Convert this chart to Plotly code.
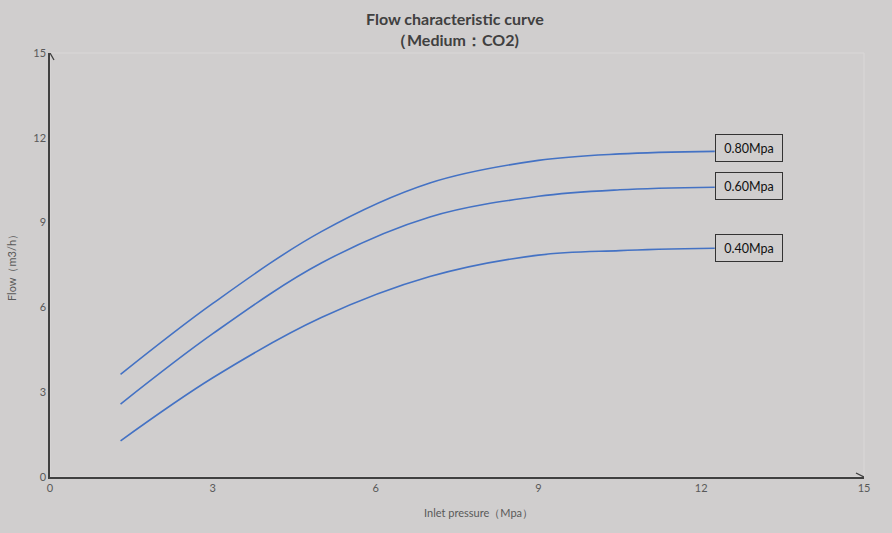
import plotly.graph_objects as go

pressure = [1.3, 3.0, 5.0, 7.0, 9.0, 10.5, 12.25]
flow_080 = [3.63, 6.14, 8.68, 10.40, 11.20, 11.43, 11.52]
flow_060 = [2.58, 5.07, 7.57, 9.20, 9.93, 10.16, 10.25]
flow_040 = [1.28, 3.51, 5.64, 7.09, 7.85, 8.01, 8.09]
series_names = ["0.80Mpa", "0.60Mpa", "0.40Mpa"]
label_shift = [3, 1, 0]
ticks = [0, 3, 6, 9, 12, 15]

BG = "#d0cece"
LINE = "#4472c4"
AX = "#404040"
TXT = "#595959"
FONT = "Lato"

fig = go.Figure()
series = [flow_080, flow_060, flow_040]
for name, ys in zip(series_names, series):
    fig.add_trace(go.Scatter(x=pressure, y=ys, mode="lines", name=name,
                             line=dict(color=LINE, width=1.6, shape="spline", smoothing=1.0),
                             showlegend=False, hoverinfo="skip"))

for name, ys, sh in zip(series_names, series, label_shift):
    fig.add_annotation(x=pressure[-1], y=ys[-1], xref="x", yref="y", text=name,
                       showarrow=False, xanchor="left", yanchor="middle", yshift=sh,
                       font=dict(family=FONT, size=12.5, color="#111111"),
                       bordercolor="#333333", borderwidth=1, borderpad=3,
                       width=60, height=20, bgcolor=BG)

# faint plot-area border (top and right)
fig.add_shape(type="rect", xref="paper", yref="paper", x0=0, x1=1, y0=0, y1=1,
              line=dict(color="#dad8d8", width=1), layer="below")

# axis arrowheads (open chevrons)
fig.add_shape(type="path", xref="x", yref="y", xsizemode="pixel", ysizemode="pixel",
              xanchor=0, yanchor=15, path="M -4,-7 L 0,0 L 4,-7",
              line=dict(color=AX, width=1.3))
fig.add_shape(type="path", xref="x", yref="y", xsizemode="pixel", ysizemode="pixel",
              xanchor=15, yanchor=0, path="M -8,4 L 0,0 L -8,-4",
              line=dict(color=AX, width=1.3))

# titles
fig.add_annotation(x=0.4975, y=1, xref="paper", yref="paper", yshift=35,
                   yanchor="middle", xanchor="center", showarrow=False,
                   text="<b>Flow characteristic curve</b>",
                   font=dict(family=FONT, size=16, color=AX))
fig.add_annotation(x=0.4975, y=1, xref="paper", yref="paper", yshift=13,
                   yanchor="middle", xanchor="center", showarrow=False,
                   text="<b>（Medium：CO2)</b>",
                   font=dict(family=FONT, size=16, color=AX))
fig.add_annotation(x=0.526, y=0, xref="paper", yref="paper", yshift=-35,
                   yanchor="middle", xanchor="center",
                   text="Inlet pressure（Mpa）", showarrow=False,
                   font=dict(family=FONT, size=11, color=TXT))

fig.update_layout(
    width=892, height=533,
    paper_bgcolor=BG, plot_bgcolor=BG,
    margin=dict(l=50, r=28, t=53, b=56),
    xaxis=dict(range=[0, 15], tickvals=ticks, showgrid=False, zeroline=False,
               showline=True, linecolor=AX, linewidth=1.5, ticks="",
               tickfont=dict(family=FONT, size=11, color=TXT)),
    yaxis=dict(range=[0, 15], tickvals=ticks, showgrid=False, zeroline=False,
               showline=True, linecolor=AX, linewidth=1.5, ticks="",
               tickfont=dict(family=FONT, size=11, color=TXT),
               title=dict(text="Flow（m3/h）", standoff=14,
                          font=dict(family=FONT, size=11, color=TXT))),
)

fig.write_html("out.html")
